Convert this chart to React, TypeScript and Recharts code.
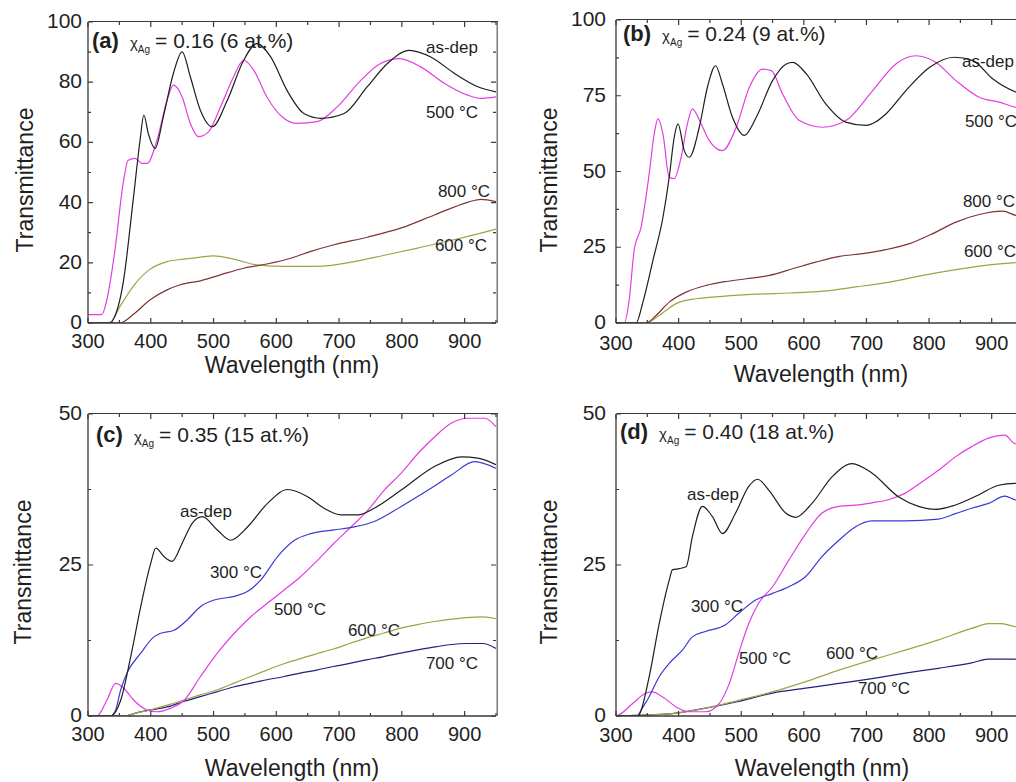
import { LineChart, Line, XAxis, YAxis } from "recharts"

// tick labels
const wlTicks = [300, 400, 500, 600, 700, 800, 900]
const wlMinor = [350, 450, 550, 650, 750, 850, 950]
const tTicksA = [0, 20, 40, 60, 80, 100]
const tMinorA = [10, 30, 50, 70, 90]
const tTicksB = [0, 25, 50, 75, 100]
const tMinorB = [12.5, 37.5, 62.5, 87.5]
const tTicksC = [0, 25, 50]
const tMinorC = [12.5, 37.5]

// (a) xAg = 0.16, [wavelength nm, transmittance]
const aAsDep = [[300, 0], [335, 0], [340, 1.1], [356, 13.3], [372, 40.9], [383, 60.8], [389, 69.1], [396, 63], [407, 58], [420, 68.5], [436, 82.9], [450, 90.1], [463, 81.8], [479, 70.7], [498, 65.2], [522, 74], [548, 87.3], [569, 92.8], [591, 88.4], [617, 77.3], [644, 69.6], [671, 68], [708, 69.6], [745, 78.5], [777, 86.2], [812, 90.6], [846, 88.4], [884, 82.9], [921, 78.5], [950, 76.8]]
const a500 = [[300, 2.8], [322, 2.8], [330, 7.7], [343, 24.3], [356, 46.4], [364, 54.1], [375, 54.7], [386, 53], [394, 53], [410, 60.8], [426, 74], [436, 79], [450, 75.1], [463, 66.3], [476, 61.9], [492, 63.5], [511, 71.8], [532, 81.8], [548, 87.3], [564, 84], [585, 75.1], [612, 68], [633, 66.3], [665, 66.9], [697, 71.8], [735, 80.7], [766, 86.2], [796, 87.8], [830, 85.1], [868, 79.6], [905, 75.7], [926, 74.6], [950, 75.1]]
const a800 = [[300, 0], [351, 0], [372, 2.8], [399, 7.7], [426, 11], [447, 12.7], [479, 14], [511, 16], [548, 18.2], [585, 19.6], [623, 21.5], [655, 23.8], [692, 26], [745, 28.5], [798, 31.5], [852, 35.9], [905, 40.1], [926, 41.1], [950, 40.3]]
const a600 = [[300, 0], [335, 0.2], [351, 5.5], [372, 12.2], [399, 17.9], [426, 20.4], [452, 21.2], [479, 21.9], [500, 22.3], [532, 21.2], [569, 19.3], [612, 18.8], [665, 18.8], [719, 20.2], [772, 22.5], [825, 24.9], [878, 27.4], [932, 30.2], [950, 31.2]]

// (b) xAg = 0.24
const bAsDep = [[300, 0], [332, 0], [343, 6.9], [359, 20.7], [375, 34.9], [385, 48.1], [393, 61.3], [399, 65.7], [409, 56.9], [417, 54.7], [433, 64.6], [446, 77.8], [459, 84.9], [470, 78.9], [486, 67.9], [505, 61.9], [524, 67.9], [550, 80], [572, 85.5], [582, 86], [604, 82.2], [635, 72.3], [667, 66.3], [699, 65.2], [731, 69], [763, 76.7], [801, 84.4], [840, 87.7], [870, 86.6], [902, 80.5], [939, 76.2], [950, 75.5]]
const b500 = [[300, 0], [313, 0], [321, 7.5], [329, 24], [340, 31.6], [353, 49.2], [361, 62.4], [367, 67.4], [375, 62.4], [385, 48.1], [393, 47.6], [404, 54.7], [414, 65.7], [422, 70.7], [436, 65.7], [449, 60.2], [470, 56.9], [492, 64.6], [513, 77.8], [534, 83.8], [548, 83.3], [566, 75.6], [593, 66.8], [630, 64.6], [667, 66.8], [710, 76.7], [747, 85.5], [779, 88.2], [811, 86], [843, 80], [880, 74.5], [912, 72.9], [939, 71.2], [950, 71]]
const b800 = [[300, 0], [348, 0], [364, 2.5], [385, 6.9], [412, 10.2], [444, 12.4], [476, 13.7], [508, 14.6], [545, 15.7], [582, 17.9], [619, 20.1], [657, 22], [694, 22.9], [731, 24.2], [769, 26.2], [806, 29.5], [843, 33.3], [880, 35.8], [918, 36.9], [939, 35.5], [950, 35.3]]
const b600 = [[300, 0], [348, 0], [369, 2.5], [396, 6.4], [428, 8], [470, 8.8], [524, 9.5], [577, 9.9], [630, 10.5], [683, 11.9], [737, 13.5], [790, 15.7], [843, 17.6], [896, 19.2], [939, 19.9], [950, 20]]

// (c) xAg = 0.35
const cAsDep = [[300, 0], [336, 0], [352, 2.6], [368, 9.8], [384, 18.1], [400, 25.3], [408, 27.8], [421, 26.4], [434, 25.6], [450, 28.6], [466, 31.9], [482, 33], [506, 30.8], [527, 29.1], [554, 31.3], [586, 35.2], [618, 37.5], [650, 36.3], [676, 34.4], [703, 33.3], [730, 33.3], [756, 34.4], [799, 37.4], [852, 41.3], [895, 42.9], [921, 42.7], [950, 41.6]]
const c300 = [[300, 0], [336, 0], [344, 1], [352, 4.3], [362, 7.1], [384, 10.4], [405, 13.1], [416, 13.7], [437, 14.2], [458, 15.9], [479, 18.1], [501, 19.2], [533, 19.8], [554, 20.6], [575, 22.5], [602, 26.4], [629, 29.1], [655, 30.2], [692, 30.8], [724, 31.3], [756, 32.2], [799, 34.7], [842, 37.4], [879, 39.9], [916, 42.1], [950, 41]]
const c500 = [[300, 0], [314, 0], [330, 2.6], [344, 5.4], [357, 4.6], [373, 2.6], [394, 1], [410, 0.7], [432, 1.3], [453, 2.6], [479, 6.5], [506, 10.4], [533, 13.7], [559, 16.4], [586, 18.7], [613, 20.9], [639, 23.1], [666, 25.8], [692, 28.6], [719, 31.3], [746, 34.1], [772, 37.4], [799, 40.2], [826, 43.5], [852, 46.2], [879, 48.5], [905, 49.3], [932, 49.3], [950, 47.9]]
const c600 = [[300, 0], [360, 0], [373, 0.4], [399, 1], [426, 1.8], [452, 2.6], [479, 3.5], [505, 4.3], [532, 5.4], [558, 6.5], [585, 7.6], [611, 8.6], [638, 9.5], [664, 10.3], [691, 11.1], [717, 12], [743, 12.9], [770, 13.7], [797, 14.5], [823, 15.1], [850, 15.6], [876, 16], [903, 16.3], [929, 16.4], [950, 16.1]]
const c700 = [[300, 0], [360, 0], [373, 0.4], [399, 1], [426, 1.5], [452, 2.4], [479, 3.2], [505, 4], [532, 4.8], [558, 5.4], [585, 6], [611, 6.5], [638, 7.1], [664, 7.6], [691, 8.2], [717, 8.7], [743, 9.3], [770, 9.8], [797, 10.4], [823, 10.9], [850, 11.4], [876, 11.8], [903, 12], [929, 12], [950, 11.2]]

// (d) xAg = 0.40
const dAsDep = [[300, 0], [335, 0], [337, 0.2], [353, 6.5], [369, 15.3], [385, 22.5], [390, 24.2], [401, 24.4], [412, 24.7], [422, 29.7], [438, 34.7], [454, 33], [470, 30.2], [491, 33.6], [512, 38], [526, 39.2], [544, 37.4], [571, 33.6], [587, 32.9], [613, 35.2], [645, 39.6], [677, 41.8], [709, 40.2], [751, 36.3], [783, 34.7], [810, 34.2], [841, 34.9], [879, 36.6], [911, 38.2], [937, 38.5], [950, 38.3]]
const d300 = [[300, 0], [335, 0], [337, 0.4], [353, 3.2], [369, 6.5], [385, 8.7], [406, 10.9], [422, 13.1], [443, 14], [475, 15.1], [496, 17], [523, 19.2], [550, 20.3], [576, 21.4], [603, 23.1], [629, 26.4], [656, 29.1], [682, 31.3], [709, 32.3], [762, 32.3], [815, 32.6], [842, 33.5], [868, 34.4], [895, 35.2], [921, 36.4], [937, 35.8], [950, 35.6]]
const d500 = [[300, 0], [305, 0.2], [327, 2.1], [348, 3.8], [358, 4], [374, 3.2], [396, 1.5], [417, 0.7], [443, 0.7], [465, 2.1], [481, 5.4], [496, 10.4], [512, 15.3], [528, 18.7], [550, 21.4], [576, 25.8], [603, 30.2], [629, 33.6], [656, 34.7], [682, 34.9], [709, 35.3], [735, 35.8], [762, 36.9], [789, 38.8], [815, 40.7], [842, 42.9], [868, 44.6], [895, 46], [921, 46.5], [937, 45.1], [950, 45]]
const d600 = [[300, 0], [353, 0.2], [390, 0.4], [443, 1.3], [496, 2.6], [550, 4], [603, 5.7], [656, 7.6], [709, 9.3], [762, 10.9], [815, 12.6], [868, 14.5], [895, 15.3], [916, 15.3], [937, 14.8], [950, 14.7]]
const d700 = [[300, 0], [353, 0.2], [390, 0.4], [443, 1.3], [496, 2.4], [550, 3.8], [603, 4.6], [656, 5.4], [709, 6.2], [762, 7.1], [815, 7.9], [868, 8.8], [895, 9.4], [937, 9.4], [950, 9.3]]

const C_ASDEP = "#1e1e1e"
const C_300 = "#3a3ad4"
const C_500 = "#e43ce4"
const C_600 = "#a2a245"
const C_700 = "#22227e"
const C_800 = "#7e3434"
const FRAME = "#3a3a3a"
const INK = "#1f1f1f"
const FONT = '"Liberation Sans", Arial, sans-serif'

const toRows = (pts: number[][]) => pts.map(([w, t]) => ({ w, t }))
const merged = (a: number[], b: number[]) => [...a, ...b].sort((p, q) => p - q)

// Origin-style inward ticks, each one mirrored on the opposite edge of the box
function tickFor(side: string, major: number[], gap: number, span: number) {
  return (p: any) => {
    const v = p.payload.value
    const big = major.includes(v)
    const len = big ? 5 : 3
    const x = Number(p.x)
    const y = Number(p.y)
    if (side === "bottom") {
      const yt = y - span
      return (
        <g>
          <path d={`M${x},${y}V${y - len}M${x},${yt}V${yt + len}`} stroke={FRAME} strokeWidth={1.2} fill="none" />
          {big && <text x={x} y={y + gap} textAnchor="middle" fontSize={20} fill={INK} fontFamily={FONT}>{v}</text>}
        </g>
      )
    }
    const xr = x + span
    return (
      <g>
        <path d={`M${x},${y}H${x + len}M${xr},${y}H${xr - len}`} stroke={FRAME} strokeWidth={1.2} fill="none" />
        {big && <text x={x - gap} y={y + 6} textAnchor="end" fontSize={21} fill={INK} fontFamily={FONT}>{v}</text>}
      </g>
    )
  }
}

type Series = { pts: number[][]; color: string }

function Panel(props: {
  left: number; top: number; w: number; h: number
  margin: { top: number; right: number; bottom: number; left: number }
  yMax: number; yTicks: number[]; yMinor: number[]
  xGap: number; yGap: number; series: Series[]
}) {
  const { left, top, w, h, margin, yMax, yTicks, yMinor, xGap, yGap, series } = props
  const axisLine = { stroke: FRAME, strokeWidth: 1.3 }
  const xt = merged(wlTicks, wlMinor)
  const yt = merged(yTicks, yMinor)
  const plotW = w - margin.left - margin.right - 50
  const plotH = h - margin.top - margin.bottom - 40
  return (
    <div style={{ position: "absolute", left, top, width: w, height: h }}>
      <LineChart width={w} height={h} margin={margin}>
        <XAxis type="number" dataKey="w" domain={[300, 950]} ticks={xt} interval={0}
          height={40} tickSize={0} tickMargin={0} tickLine={false} axisLine={axisLine}
          tick={tickFor("bottom", wlTicks, xGap, plotH)} allowDataOverflow />
        <YAxis type="number" domain={[0, yMax]} ticks={yt} interval={0}
          width={50} tickSize={0} tickMargin={0} tickLine={false} axisLine={axisLine}
          tick={tickFor("left", yTicks, yGap, plotW)} allowDataOverflow />
        {series.map((s, i) => (
          <Line key={i} data={toRows(s.pts)} dataKey="t" type="monotone" stroke={s.color}
            strokeWidth={1.2} dot={false} activeDot={false} isAnimationActive={false} />
        ))}
      </LineChart>
      {/* top and right edges of the plot box */}
      <div style={{
        position: "absolute", left: margin.left + 50, top: margin.top - 0.65,
        width: plotW, height: plotH, boxSizing: "content-box",
        borderTop: `1.3px solid ${FRAME}`, borderRight: `1.3px solid ${FRAME}`,
        marginLeft: 0, pointerEvents: "none", transform: "translateX(0.65px)",
      }} />
    </div>
  )
}

function Txt(props: { x: number; y: number; size?: number; children: any }) {
  return (
    <div style={{
      position: "absolute", left: props.x, top: props.y, transform: "translate(-50%, -50%)",
      fontSize: props.size ?? 17, lineHeight: 1, whiteSpace: "nowrap", color: INK,
    }}>{props.children}</div>
  )
}

function YTitle(props: { x: number; y: number }) {
  return (
    <div style={{
      position: "absolute", left: props.x, top: props.y,
      transform: "translate(-50%, -50%) rotate(-90deg)",
      fontSize: 23, lineHeight: 1, whiteSpace: "nowrap", color: INK,
    }}>Transmittance</div>
  )
}

function Heading(props: { x: number; y: number; tag: string; value: string }) {
  return (
    <div style={{
      position: "absolute", left: props.x, top: props.y, fontSize: 21, lineHeight: "24px",
      whiteSpace: "nowrap", color: INK,
    }}>
      <b style={{ fontSize: 22 }}>({props.tag})</b>
      <span style={{ fontSize: 15, marginLeft: 11 }}>χ</span>
      <sub style={{ fontSize: 10 }}>Ag</sub>
      <span style={{ marginLeft: 5 }}>= {props.value}</span>
    </div>
  )
}

export default function App() {
  return (
    <div style={{
      position: "fixed", left: 0, top: 0, width: 1016, height: 782, overflow: "hidden",
      background: "#fff", fontFamily: FONT,
    }}>
      <Panel left={0} top={0} w={510} h={390} margin={{ top: 22, right: 14, bottom: 27, left: 38 }}
        yMax={100} yTicks={tTicksA} yMinor={tMinorA} xGap={25} yGap={6}
        series={[{ pts: a600, color: C_600 }, { pts: a800, color: C_800 }, { pts: a500, color: C_500 }, { pts: aAsDep, color: C_ASDEP }]} />
      <Panel left={506} top={0} w={530} h={390} margin={{ top: 20, right: 13, bottom: 27, left: 60 }}
        yMax={100} yTicks={tTicksB} yMinor={tMinorB} xGap={27} yGap={10}
        series={[{ pts: b600, color: C_600 }, { pts: b800, color: C_800 }, { pts: b500, color: C_500 }, { pts: bAsDep, color: C_ASDEP }]} />
      <Panel left={0} top={390} w={510} h={392} margin={{ top: 24, right: 14, bottom: 26, left: 38 }}
        yMax={50} yTicks={tTicksC} yMinor={tMinorC} xGap={25} yGap={6}
        series={[{ pts: c700, color: C_700 }, { pts: c600, color: C_600 }, { pts: c500, color: C_500 }, { pts: c300, color: C_300 }, { pts: cAsDep, color: C_ASDEP }]} />
      <Panel left={506} top={390} w={530} h={392} margin={{ top: 24, right: 13, bottom: 26, left: 60 }}
        yMax={50} yTicks={tTicksC} yMinor={tMinorC} xGap={26} yGap={10}
        series={[{ pts: d700, color: C_700 }, { pts: d600, color: C_600 }, { pts: d500, color: C_500 }, { pts: d300, color: C_300 }, { pts: dAsDep, color: C_ASDEP }]} />

      <YTitle x={25} y={180} />
      <YTitle x={549} y={180} />
      <YTitle x={23} y={572} />
      <YTitle x={549} y={572} />
      <Txt x={292} y={365} size={23}>Wavelength (nm)</Txt>
      <Txt x={821} y={374} size={23}>Wavelength (nm)</Txt>
      <Txt x={292} y={768} size={23}>Wavelength (nm)</Txt>
      <Txt x={822} y={768} size={23}>Wavelength (nm)</Txt>

      <Heading x={92} y={29} tag="a" value="0.16 (6 at.%)" />
      <Heading x={623} y={22} tag="b" value="0.24 (9 at.%)" />
      <Heading x={96} y={423} tag="c" value="0.35 (15 at.%)" />
      <Heading x={620} y={420} tag="d" value="0.40 (18 at.%)" />

      <Txt x={452} y={47}>as-dep</Txt>
      <Txt x={452} y={112}>500 °C</Txt>
      <Txt x={464} y={191}>800 °C</Txt>
      <Txt x={461} y={245}>600 °C</Txt>

      <Txt x={988} y={61}>as-dep</Txt>
      <Txt x={991} y={121}>500 °C</Txt>
      <Txt x={989} y={201}>800 °C</Txt>
      <Txt x={990} y={251}>600 °C</Txt>

      <Txt x={206} y={511}>as-dep</Txt>
      <Txt x={236} y={572}>300 °C</Txt>
      <Txt x={300} y={609}>500 °C</Txt>
      <Txt x={374} y={630}>600 °C</Txt>
      <Txt x={452} y={663}>700 °C</Txt>

      <Txt x={713} y={494}>as-dep</Txt>
      <Txt x={717} y={606}>300 °C</Txt>
      <Txt x={765} y={658}>500 °C</Txt>
      <Txt x={852} y={653}>600 °C</Txt>
      <Txt x={884} y={688}>700 °C</Txt>
    </div>
  )
}
